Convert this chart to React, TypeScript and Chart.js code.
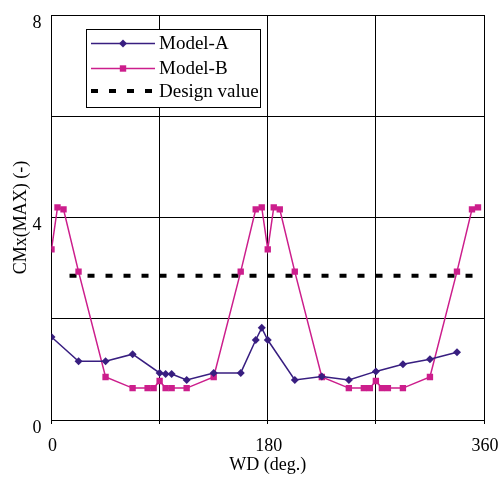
import { useEffect, useRef } from 'react';
import { Chart, registerables } from 'chart.js';
Chart.register(...registerables);

const xA = [0, 22.5, 45, 67.5, 90, 95, 100, 112.5, 135, 157.5, 170, 175, 180, 202.5, 225, 247.5, 270, 292.5, 315, 337.5];
const yA = [1.64, 1.16, 1.16, 1.3, 0.93, 0.91, 0.91, 0.79, 0.93, 0.93, 1.58, 1.82, 1.58, 0.79, 0.86, 0.79, 0.96, 1.1, 1.2, 1.34];

const xB = [0, 5, 10, 22.5, 45, 67.5, 80, 85, 90, 95, 100, 112.5, 135, 157.5, 170, 175, 180, 185, 190, 202.5, 225, 247.5, 260, 265, 270, 275, 280, 292.5, 315, 337.5, 350, 355];
const yB = [3.37, 4.2, 4.16, 2.93, 0.85, 0.63, 0.63, 0.63, 0.77, 0.63, 0.63, 0.63, 0.85, 2.93, 4.16, 4.2, 3.37, 4.2, 4.16, 2.93, 0.85, 0.63, 0.63, 0.63, 0.77, 0.63, 0.63, 0.63, 0.85, 2.93, 4.16, 4.2];

const xD = [15, 351];
const yD = [2.85, 2.85];

const seriesLabels = ['Model-A', 'Model-B', 'Design value'];
const xTickLabels = [0, 180, 360];
const yTickLabels = [0, 4, 8];

const COLOR_A = '#381E80';
const COLOR_B = '#CC1E8C';
const FONT = '"Liberation Serif", "Times New Roman", serif';

const toPts = (xs: number[], ys: number[]) => xs.map((x, i) => ({ x, y: ys[i] }));

const legendPlugin = {
  id: 'boxLegend',
  afterDraw(chart: any) {
    const ctx = chart.ctx as CanvasRenderingContext2D;
    const left = 86.5, top = 29.5, w = 174, h = 78;
    ctx.save();
    ctx.fillStyle = '#ffffff';
    ctx.fillRect(left, top, w, h);
    ctx.strokeStyle = '#000000';
    ctx.lineWidth = 1;
    ctx.strokeRect(left, top, w, h);
    const rows = [43.5, 68.5, 91];
    const x0 = 91, x1 = 155, xm = 123;
    chart.data.datasets.forEach((ds: any, i: number) => {
      const y = rows[i];
      ctx.save();
      ctx.strokeStyle = ds.borderColor;
      ctx.lineWidth = ds.borderWidth;
      ctx.setLineDash(ds.borderDash || []);
      ctx.beginPath();
      ctx.moveTo(x0, y);
      ctx.lineTo(x1, y);
      ctx.stroke();
      ctx.restore();
      ctx.fillStyle = ds.borderColor;
      if (ds.pointStyle === 'rectRot') {
        const r = 4;
        ctx.beginPath();
        ctx.moveTo(xm, y - r);
        ctx.lineTo(xm + r, y);
        ctx.lineTo(xm, y + r);
        ctx.lineTo(xm - r, y);
        ctx.closePath();
        ctx.fill();
      } else if (ds.pointStyle === 'rect') {
        const s = 3.2;
        ctx.fillRect(xm - s, y - s, 2 * s, 2 * s);
      }
      ctx.fillStyle = '#000000';
      ctx.font = `19px ${FONT}`;
      ctx.textBaseline = 'middle';
      ctx.textAlign = 'left';
      ctx.fillText(ds.label, 159, y + 1);
    });
    ctx.restore();
  },
};

export default function App() {
  const ref = useRef<HTMLCanvasElement>(null);
  useEffect(() => {
    document.body.style.margin = '0';
    const chart = new Chart(ref.current as HTMLCanvasElement, {
      type: 'scatter',
      data: {
        datasets: [
          {
            label: seriesLabels[0],
            data: toPts(xA, yA),
            showLine: true,
            borderColor: COLOR_A,
            backgroundColor: COLOR_A,
            borderWidth: 1.5,
            pointStyle: 'rectRot',
            pointRadius: 4,
            pointBorderWidth: 0,
          },
          {
            label: seriesLabels[1],
            data: toPts(xB, yB),
            showLine: true,
            borderColor: COLOR_B,
            backgroundColor: COLOR_B,
            borderWidth: 1.5,
            pointStyle: 'rect',
            pointRadius: 4.5,
            pointBorderWidth: 0,
          },
          {
            label: seriesLabels[2],
            data: toPts(xD, yD),
            showLine: true,
            borderColor: '#000000',
            backgroundColor: '#000000',
            borderWidth: 4,
            borderDash: [7, 11],
            borderCapStyle: 'butt',
            pointRadius: 0,
          },
        ],
      },
      options: {
        animation: false,
        responsive: false,
        devicePixelRatio: 1,
        layout: { padding: { top: 15, right: 17, left: 0, bottom: 0 } },
        plugins: { legend: { display: false }, tooltip: { enabled: false } },
        scales: {
          x: {
            type: 'linear',
            min: 0,
            max: 360,
            afterFit: (s: any) => { s.height = 71; s.paddingLeft = 0; s.paddingRight = 0; },
            ticks: {
              stepSize: 90,
              color: '#000',
              font: { family: FONT, size: 18 },
              padding: 11,
              labelOffset: 1,
              maxRotation: 0,
              callback: (v: any) => (xTickLabels.includes(Number(v)) ? String(v) : ''),
            },
            grid: { color: '#000', lineWidth: 1, tickLength: 4, tickColor: '#000', drawTicks: true },
            border: { color: '#000', width: 1 },
            title: {
              display: true,
              text: 'WD (deg.)',
              color: '#000',
              font: { family: FONT, size: 18 },
              padding: { top: 0, bottom: 15 },
            },
          },
          y: {
            type: 'linear',
            min: 0,
            max: 8,
            afterFit: (s: any) => { s.width = 51.5; s.paddingTop = 0; s.paddingBottom = 0; },
            ticks: {
              stepSize: 2,
              color: '#000',
              font: { family: FONT, size: 18 },
              padding: 10,
              labelOffset: 8,
              callback: (v: any) => (yTickLabels.includes(Number(v)) ? String(v) : ''),
            },
            grid: { color: '#000', lineWidth: 1, drawTicks: false },
            border: { color: '#000', width: 1 },
            title: {
              display: true,
              text: 'CMx(MAX) (-)',
              color: '#000',
              font: { family: FONT, size: 18 },
              padding: { top: 10, bottom: 0 },
            },
          },
        },
      },
      plugins: [legendPlugin],
    });
    return () => chart.destroy();
  }, []);
  return (
    <div style={{ width: 501, height: 491, position: 'relative', background: '#fff' }}>
      <canvas ref={ref} width={501} height={491} style={{ display: 'block' }} />
    </div>
  );
}
